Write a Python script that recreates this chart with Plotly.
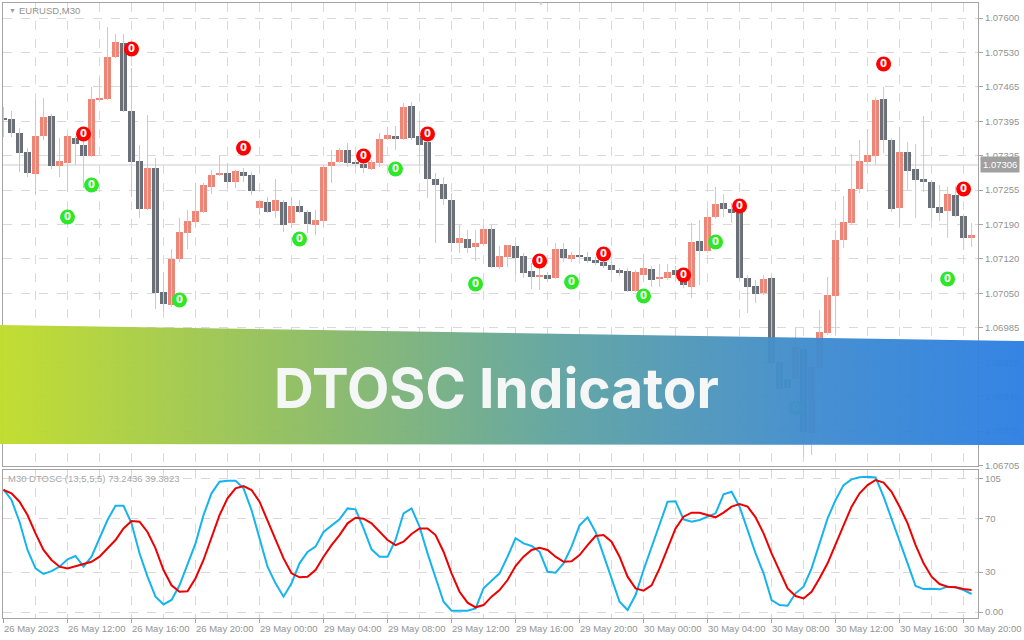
import numpy as np
import plotly.graph_objects as go

# ---------------- data ----------------
open_ = [1.07398,1.07398,1.07370,1.07332,1.07288,1.07364,1.07404,1.07304,1.07310,1.07360,
         1.07346,1.07324,1.07436,1.07438,1.07522,1.07550,1.07414,1.07314,1.07218,1.07300,
         1.07052,1.07026,1.07118,1.07170,1.07192,1.07212,1.07262,1.07286,1.07290,1.07272,
         1.07292,1.07286,1.07220,1.07232,1.07214,1.07232,1.07190,1.07224,1.07212,1.07186,
         1.07194,1.07304,1.07312,1.07336,1.07310,1.07308,1.07298,1.07310,1.07358,1.07364,
         1.07358,1.07424,1.07364,1.07352,1.07278,1.07268,1.07236,1.07150,1.07158,1.07142,
         1.07148,1.07178,1.07102,1.07122,1.07144,1.07124,1.07094,1.07082,1.07086,1.07080,
         1.07138,1.07118,1.07126,1.07122,1.07116,1.07112,1.07106,1.07096,1.07094,1.07054,
         1.07086,1.07098,1.07078,1.07080,1.07096,1.07082,1.07062,1.07154,1.07134,1.07202,
         1.07230,1.07218,1.07210,1.07080,1.07064,1.07050,1.07080,1.06912,1.06878,1.06878,
         1.06938,1.06770,1.06900,1.06970,1.07044,1.07156,1.07190,1.07258,1.07312,1.07324,
         1.07438,1.07356,1.07220,1.07332,1.07298,1.07278,1.07272,1.07222,1.07214,1.07246,
         1.07204,1.07160]
high = [1.07422,1.07414,1.07380,1.07340,1.07436,1.07440,1.07408,1.07360,1.07368,1.07364,
        1.07356,1.07462,1.07480,1.07582,1.07568,1.07568,1.07500,1.07346,1.07406,1.07320,
        1.07092,1.07138,1.07200,1.07216,1.07270,1.07270,1.07296,1.07326,1.07310,1.07296,
        1.07300,1.07292,1.07236,1.07242,1.07278,1.07236,1.07242,1.07236,1.07216,1.07216,
        1.07306,1.07336,1.07340,1.07350,1.07316,1.07316,1.07316,1.07370,1.07382,1.07384,
        1.07430,1.07432,1.07396,1.07372,1.07290,1.07282,1.07250,1.07186,1.07176,1.07176,
        1.07186,1.07186,1.07144,1.07146,1.07150,1.07130,1.07110,1.07110,1.07092,1.07150,
        1.07150,1.07132,1.07150,1.07132,1.07122,1.07120,1.07112,1.07100,1.07100,1.07096,
        1.07128,1.07104,1.07108,1.07108,1.07104,1.07090,1.07190,1.07196,1.07220,1.07262,
        1.07248,1.07230,1.07214,1.07086,1.07076,1.07086,1.07084,1.06942,1.06906,1.06980,
        1.06942,1.06836,1.07016,1.07082,1.07176,1.07244,1.07328,1.07356,1.07378,1.07442,
        1.07462,1.07360,1.07382,1.07352,1.07348,1.07404,1.07276,1.07266,1.07262,1.07264,
        1.07208,1.07190]
low = [1.07362,1.07362,1.07292,1.07282,1.07246,1.07356,1.07298,1.07282,1.07252,1.07306,
       1.07260,1.07322,1.07434,1.07436,1.07520,1.07412,1.07242,1.07200,1.07216,1.07018,
       1.07012,1.07022,1.07112,1.07138,1.07182,1.07210,1.07248,1.07284,1.07260,1.07260,
       1.07272,1.07246,1.07206,1.07210,1.07200,1.07172,1.07180,1.07210,1.07170,1.07166,
       1.07182,1.07270,1.07310,1.07302,1.07302,1.07290,1.07296,1.07302,1.07356,1.07336,
       1.07356,1.07356,1.07306,1.07240,1.07150,1.07226,1.07132,1.07130,1.07130,1.07114,
       1.07144,1.07100,1.07098,1.07102,1.07086,1.07080,1.07058,1.07056,1.07072,1.07078,
       1.07112,1.07112,1.07120,1.07110,1.07106,1.07100,1.07090,1.07084,1.07052,1.07052,
       1.07072,1.07062,1.07062,1.07076,1.07080,1.07060,1.07040,1.07066,1.07130,1.07198,
       1.07202,1.07190,1.07076,1.07010,1.07030,1.07046,1.06896,1.06830,1.06836,1.06874,
       1.06722,1.06726,1.06876,1.06966,1.06970,1.07140,1.07186,1.07250,1.07306,1.07306,
       1.07330,1.07212,1.07182,1.07256,1.07200,1.07252,1.07194,1.07194,1.07160,1.07202,
       1.07136,1.07142]
close = [1.07396,1.07370,1.07330,1.07290,1.07364,1.07402,1.07304,1.07314,1.07364,1.07348,
         1.07324,1.07438,1.07440,1.07522,1.07552,1.07414,1.07312,1.07218,1.07300,1.07050,
         1.07028,1.07118,1.07172,1.07194,1.07214,1.07266,1.07286,1.07290,1.07272,1.07294,
         1.07284,1.07254,1.07234,1.07212,1.07236,1.07186,1.07224,1.07212,1.07188,1.07196,
         1.07302,1.07312,1.07336,1.07310,1.07308,1.07300,1.07312,1.07358,1.07366,1.07358,
         1.07422,1.07360,1.07346,1.07278,1.07266,1.07238,1.07150,1.07160,1.07140,1.07150,
         1.07178,1.07102,1.07124,1.07146,1.07120,1.07090,1.07082,1.07086,1.07078,1.07138,
         1.07120,1.07126,1.07122,1.07114,1.07110,1.07104,1.07096,1.07090,1.07054,1.07092,
         1.07100,1.07076,1.07080,1.07092,1.07086,1.07066,1.07152,1.07134,1.07202,1.07228,
         1.07218,1.07210,1.07080,1.07062,1.07048,1.07078,1.06910,1.06858,1.06860,1.06942,
         1.06772,1.06902,1.06972,1.07046,1.07156,1.07192,1.07258,1.07314,1.07326,1.07436,
         1.07356,1.07218,1.07332,1.07294,1.07276,1.07272,1.07220,1.07210,1.07248,1.07204,
         1.07160,1.07166]

dtosc_fast = [92,84,67.7,46.5,32.7,28.5,30.7,34,39.5,42,
              34,41.5,55.3,69,79.7,79.7,66.5,44,26.5,11.5,
              5.7,9,20,35,51.5,72.7,89,97.7,98.5,98.5,
              92.7,76.5,55.3,34,21.5,11.5,21.5,36.5,45,49,
              60,65,69.5,77.7,77,62.7,47,41.5,41.5,54,
              74,77.7,64,44,26.5,7.7,1,1,1,2.7,
              17.7,23.5,29,41.5,55.3,51.5,49.5,45.2,30.2,29.5,
              36.5,49,65,71,60,42.7,25.3,7.7,1.5,12.7,
              31.5,49,66.5,82.7,83,69.5,67.7,69,71.5,74,
              88.2,90.2,79,61.5,44,29,9,5.2,4.7,14,
              19,32.7,51.5,70.2,84,95.2,99.5,101,101.5,101,
              86.5,70.2,54,36.5,19.5,17.2,17.5,17,19,18.5,
              16.5,13.5]
dtosc_slow = [91.5,89,82.7,72.7,59,46.5,39,34,32.7,34.5,
              36,37.7,41.5,47.7,54,62.7,68.2,67.7,60,47.7,
              31.5,20,15.2,15.5,25.3,39,56.5,72.7,85.2,92.7,
              94.5,91.5,82.7,69,54,40.2,29,26,26.5,31.5,
              41.5,50.2,57.7,66.5,70.7,70,66.5,60,54,50.2,
              52.7,58.5,62.7,62.7,57.7,45.2,29,15.2,7,3.5,
              5.2,11.5,16.5,24,34.5,41.5,46.5,48.2,46.5,41.5,
              37.7,38,42.7,50.2,57,57.7,52.7,41.5,26.5,17.7,
              16,20,32.7,47.7,62.7,71.5,74.5,74.5,72.7,71,
              74.5,79,81,79,71,59,44,30.2,17.7,12,
              10.2,15.2,25.3,36.5,50.2,65,79,89,95.2,99,
              97,90.2,79,66.5,50.2,36.5,26.5,21,19,18.5,
              17.2,16.5]

red_signal_bars = [10, 16, 30, 45, 53, 67, 75, 85, 92, 110, 120]
red_signal_price = [1.07368, 1.07538, 1.07340, 1.07324, 1.07368, 1.07114,
                    1.07128, 1.07086, 1.07224, 1.07508, 1.07258]
green_signal_bars = [8, 11, 22, 37, 49, 59, 71, 80, 89, 99, 118]
green_signal_price = [1.07202, 1.07266, 1.07036, 1.07158, 1.07298, 1.07068,
                      1.07072, 1.07044, 1.07152, 1.06820, 1.07078]

price_labels = ["1.07600", "1.07530", "1.07465", "1.07395", "1.07325", "1.07255", "1.07190",
                "1.07120", "1.07050", "1.06985", "1.06915", "1.06845", "1.06775", "1.06705"]
osc_levels = [0, 30, 70, 100]
osc_labels = ["0.00", "30", "70", "105"]
time_labels = ["26 May 2023", "26 May 12:00", "26 May 16:00", "26 May 20:00",
               "29 May 00:00", "29 May 04:00", "29 May 08:00", "29 May 12:00",
               "29 May 16:00", "29 May 20:00", "30 May 00:00", "30 May 04:00",
               "30 May 08:00", "30 May 12:00", "30 May 16:00", "30 May 20:00"]
current_price = 1.07306

# ---------------- styling ----------------
BULL = "#ee8678"
BEAR = "#6b7078"
WICK = "#c8cad0"
GRID = "#d9d9d9"
AXIS = "#a4a4a4"
TXT = "#939393"
FONT = "Liberation Sans"
W, H = 1024, 645   # page frame (layout fractions are expressed on a 640-px reference)

n = len(open_)
bars = list(range(n))

fig = go.Figure()

# wicks
wx, wy = [], []
for i in bars:
    wx += [i, i, None]
    wy += [low[i], high[i], None]
fig.add_trace(go.Scatter(x=wx, y=wy, mode="lines", line=dict(color=WICK, width=1),
                         xaxis="x", yaxis="y", hoverinfo="skip"))

# bodies
base = [min(o, c) for o, c in zip(open_, close)]
height = [max(abs(c - o), 0.00003) for o, c in zip(open_, close)]
cols = [BULL if c > o else BEAR for o, c in zip(open_, close)]
fig.add_trace(go.Bar(x=bars, base=base, y=height, width=0.875,
                     marker=dict(color=cols, line=dict(width=0)),
                     xaxis="x", yaxis="y", hoverinfo="skip"))

# signal markers
fig.add_trace(go.Scatter(x=red_signal_bars, y=red_signal_price, mode="markers+text",
                         marker=dict(symbol="circle", size=15, color="#ff0000"),
                         text=["0"] * len(red_signal_bars), textposition="middle center",
                         textfont=dict(color="white", size=10, family="DejaVu Sans", weight="bold"),
                         xaxis="x", yaxis="y", hoverinfo="skip"))
fig.add_trace(go.Scatter(x=green_signal_bars, y=green_signal_price, mode="markers+text",
                         marker=dict(symbol="circle", size=15, color="#2fe62a"),
                         text=["0"] * len(green_signal_bars), textposition="middle center",
                         textfont=dict(color="#f4fff0", size=10, family="DejaVu Sans", weight="bold"),
                         xaxis="x", yaxis="y", hoverinfo="skip"))

# oscillator
fig.add_trace(go.Scatter(x=bars, y=dtosc_fast, mode="lines", line=dict(color="#16b4ee", width=2),
                         xaxis="x2", yaxis="y2", hoverinfo="skip"))
fig.add_trace(go.Scatter(x=bars, y=dtosc_slow, mode="lines", line=dict(color="#ee0000", width=2),
                         xaxis="x2", yaxis="y2", hoverinfo="skip"))

# banner overlay (decoration in a 1024x640 reference frame)
fig.add_trace(go.Scatter(x=[0, 1024, 1024, 0, 0], y=[325, 341, 445, 444, 325],
                         mode="lines", line=dict(width=0), fill="toself",
                         fillgradient=dict(type="horizontal",
                                           colorscale=[[0, "#c0dc2a"], [0.3, "#8dbc63"],
                                                       [0.55, "#5fa3a2"], [0.8, "#3f8bd0"],
                                                       [1, "#2c7fe3"]]),
                         opacity=0.96, xaxis="x3", yaxis="y3", hoverinfo="skip"))

xdom = [2.7 / 1024, 978 / 1024]
tick_vals = list(np.linspace(1.07600, 1.06705, len(price_labels)))


def py(y):  # reference pixel row -> paper fraction
    return 1 - y / 640


fig.update_layout(
    width=W, height=H, margin=dict(l=0, r=0, t=0, b=0),
    paper_bgcolor="white", plot_bgcolor="rgba(0,0,0,0)", showlegend=False,
    font=dict(family=FONT, size=9.5, color=TXT),
    bargap=0,
    xaxis=dict(domain=xdom, range=[-0.1, 121.8], anchor="y", tickmode="linear", tick0=0, dtick=4,
               showticklabels=False, ticks="", showgrid=True, gridcolor=GRID, griddash="dash",
               showline=True, mirror=True, linecolor=AXIS, zeroline=False),
    yaxis=dict(domain=[py(466), py(3)], range=[1.06704, 1.07630], anchor="x",
               side="right", tickmode="array", tickvals=tick_vals, ticktext=price_labels,
               ticks="outside", ticklen=4, tickcolor=AXIS, showgrid=True, gridcolor=GRID,
               griddash="dash", showline=True, mirror=True, linecolor=AXIS, zeroline=False),
    xaxis2=dict(domain=xdom, matches="x", anchor="y2", tickmode="linear", tick0=0, dtick=8,
                ticks="outside", ticklen=4, tickcolor=AXIS, showticklabels=False,
                showgrid=True, gridcolor=GRID, griddash="dash",
                minor=dict(tick0=0, dtick=4, showgrid=True, gridcolor=GRID, griddash="dash", ticks=""),
                showline=True, mirror=True, linecolor=AXIS, zeroline=False),
    yaxis2=dict(domain=[py(618), py(470)], range=[-4.5, 106.5], anchor="x2",
                side="right", tickmode="array", tickvals=osc_levels, ticktext=osc_labels,
                ticks="outside", ticklen=4, tickcolor=AXIS, showgrid=True, gridcolor=GRID,
                griddash="dash", showline=True, mirror=True, linecolor=AXIS, zeroline=False),
    xaxis3=dict(domain=[0, 1], range=[0, 1024], anchor="y3", visible=False),
    yaxis3=dict(domain=[0, 1], range=[640, 0], anchor="x3", visible=False),
)

# current price line
fig.add_shape(type="line", xref="x domain", x0=0, x1=1, yref="y", y0=current_price, y1=current_price,
              line=dict(color="#cdcdcd", width=1), layer="below")

ann = []
for b, t in zip(range(0, 8 * len(time_labels), 8), time_labels):
    ann.append(dict(x=b, xref="x2", y=py(628), yref="paper", text=t, showarrow=False,
                    xanchor="left", yanchor="middle", xshift=-2, font=dict(color=TXT)))
ann.append(dict(x=7 / 1024, y=py(10), xref="paper", yref="paper", text="▼",
                showarrow=False, xanchor="left", yanchor="middle", font=dict(size=7, color="#9a9a9a")))
ann.append(dict(x=17 / 1024, y=py(10), xref="paper", yref="paper", text="EURUSD,M30",
                showarrow=False, xanchor="left", yanchor="middle", font=dict(color=TXT)))
ann.append(dict(x=536 / 1024, y=py(4), xref="paper", yref="paper", text="▼",
                showarrow=False, xanchor="left", yanchor="middle", font=dict(size=6, color="#d4d4d4")))
ann.append(dict(x=6 / 1024, y=py(478), xref="paper", yref="paper",
                text="M30 DTOSC (13,5,5,5) 73.2436 39.3823",
                showarrow=False, xanchor="left", yanchor="middle", font=dict(color="#a8a8a8")))
ann.append(dict(x=980 / 1024, y=current_price, xref="paper", yref="y", text="1.07306",
                showarrow=False, xanchor="left", yanchor="middle", bgcolor="#a0a0a0",
                borderpad=2, font=dict(color="white")))
ann.append(dict(x=496 / 1024, y=py(388), xref="paper", yref="paper", text="DTOSC Indicator",
                showarrow=False, xanchor="center", yanchor="middle",
                font=dict(family="Inter", size=55, color="#f5f7f7", weight="bold")))
fig.update_layout(annotations=ann)

page_fix = (
    "var h=document.documentElement,b=document.body;"
    "h.style.margin='0';h.style.padding='0';h.style.overflow='hidden';"
    "b.style.margin='0';b.style.padding='0';b.style.overflow='hidden';"
    "var d=document.querySelector('.plotly-graph-div');"
    "if(d){d.style.display='block';}"
)
fig.write_html("out.html", config={"displayModeBar": False}, post_script=page_fix)
